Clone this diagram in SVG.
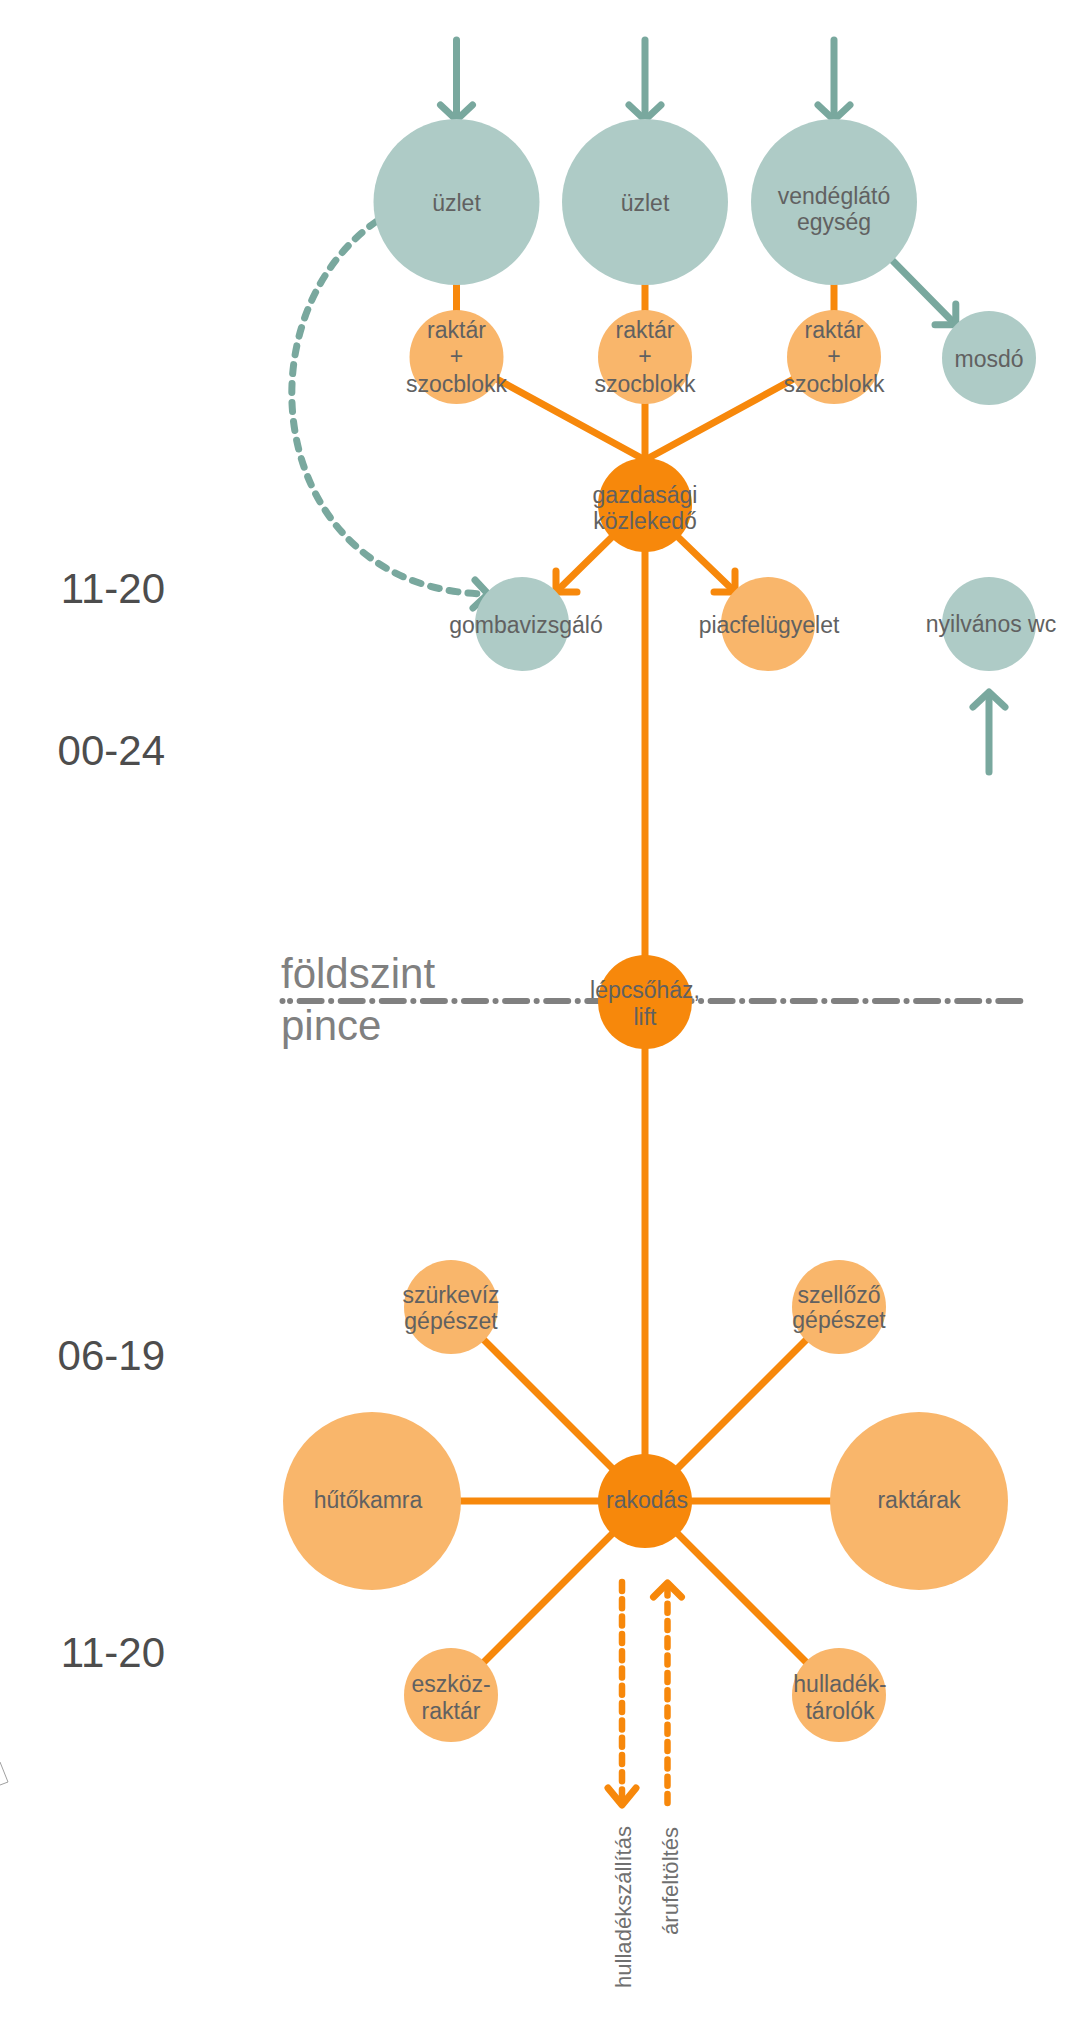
<svg xmlns="http://www.w3.org/2000/svg" width="1066" height="2042" viewBox="0 0 1066 2042">
<defs>
<style>
text{font-family:"Liberation Sans",Arial,sans-serif;}
.lbl{font-size:23px;fill:#616161;text-anchor:middle;}
.time{font-size:42px;fill:#4d4d4d;text-anchor:end;}
.floor{font-size:42px;fill:#808080;}
.rot{font-size:22px;fill:#707070;}
.teal{fill:#aecbc6;}
.lo{fill:#f9b66b;}
.do{fill:#f7880b;}
.ol{stroke:#f7880b;stroke-width:7;fill:none;stroke-linecap:round;stroke-linejoin:round;}
.tl{stroke:#79a89e;stroke-width:7;fill:none;stroke-linecap:round;stroke-linejoin:round;}
.tdash{stroke-dasharray:9 10;}
.odash{stroke-width:6.5;stroke-dasharray:9 8.3;}
</style>
</defs>
<rect width="1066" height="2042" fill="#ffffff"/>

<g id="floor-line">
<circle cx="282.5" cy="1001" r="3" fill="#808080"/>
<path d="M290,1001 H1028" stroke="#808080" stroke-width="6" stroke-linecap="round" stroke-dasharray="0.1 9.5 22 9.5" fill="none"/>
</g>

<g id="connectors">
<line class="ol" x1="456.5" y1="283" x2="456.5" y2="320"/>
<line class="ol" x1="645" y1="283" x2="645" y2="320"/>
<line class="ol" x1="834" y1="283" x2="834" y2="320"/>
<line class="ol" x1="456.5" y1="357" x2="645" y2="460"/>
<line class="ol" x1="834" y1="357" x2="645" y2="460"/>
<line class="ol" x1="645" y1="357" x2="645" y2="505"/>
<line class="ol" x1="645" y1="505" x2="645" y2="1002"/>
<line class="ol" x1="645" y1="1002" x2="645" y2="1501"/>
<line class="ol" x1="645" y1="1501" x2="451" y2="1307"/>
<line class="ol" x1="645" y1="1501" x2="839" y2="1307"/>
<line class="ol" x1="645" y1="1501" x2="451" y2="1695"/>
<line class="ol" x1="645" y1="1501" x2="839" y2="1695"/>
<line class="ol" x1="372" y1="1501" x2="645" y2="1501"/>
<line class="ol" x1="645" y1="1501" x2="919" y2="1501"/>
<!-- gazdasagi arrows -->
<line class="ol" x1="611.5" y1="537.5" x2="557" y2="591"/>
<polyline class="ol" points="556,571 556,592 577,592"/>
<line class="ol" x1="678.5" y1="537.5" x2="734" y2="591"/>
<polyline class="ol" points="735,571 735,592 714,592"/>
<!-- teal entrance arrows -->
<line class="tl" x1="456.5" y1="40" x2="456.5" y2="118"/>
<polyline class="tl" points="440.5,105 456.5,120 472.5,105"/>
<line class="tl" x1="645" y1="40" x2="645" y2="118"/>
<polyline class="tl" points="629,105 645,120 661,105"/>
<line class="tl" x1="834" y1="40" x2="834" y2="118"/>
<polyline class="tl" points="818,105 834,120 850,105"/>
<line class="tl" x1="892.7" y1="260.7" x2="955" y2="324"/>
<polyline class="tl" points="955.8,304 955.8,324.8 935,324.8"/>
<line class="tl" x1="989" y1="772" x2="989" y2="694"/>
<polyline class="tl" points="973,707 989,692 1005,707"/>
<path class="tl tdash" d="M377,221 C235,320 270,590 486,594"/>
<polyline class="tl" points="475,580 488,594 473,608"/>
<!-- loading dashed arrows -->
<line class="ol odash" x1="622" y1="1582" x2="622" y2="1803"/>
<polyline class="ol" stroke-width="6.5" points="608,1788 622,1805 636,1788"/>
<line class="ol odash" x1="667.5" y1="1803" x2="667.5" y2="1586"/>
<polyline class="ol" stroke-width="6.5" points="653.5,1597 667.5,1583 681.5,1597"/>
</g>

<g id="n-uzlet1"><circle class="teal" cx="456.5" cy="202" r="83"/><text class="lbl" x="456.5" y="211">üzlet</text></g>
<g id="n-uzlet2"><circle class="teal" cx="645" cy="202" r="83"/><text class="lbl" x="645" y="211">üzlet</text></g>
<g id="n-vendeglato"><circle class="teal" cx="834" cy="202" r="83"/><text class="lbl" x="834" y="204">vendéglátó</text><text class="lbl" x="834" y="230">egység</text></g>
<g id="n-raktar1"><circle class="lo" cx="456.5" cy="357" r="47"/><text class="lbl" x="456.5" y="338">raktár</text><text class="lbl" x="456.5" y="364">+</text><text class="lbl" x="456.5" y="391.5">szocblokk</text></g>
<g id="n-raktar2"><circle class="lo" cx="645" cy="357" r="47"/><text class="lbl" x="645" y="338">raktár</text><text class="lbl" x="645" y="364">+</text><text class="lbl" x="645" y="391.5">szocblokk</text></g>
<g id="n-raktar3"><circle class="lo" cx="834" cy="357" r="47"/><text class="lbl" x="834" y="338">raktár</text><text class="lbl" x="834" y="364">+</text><text class="lbl" x="834" y="391.5">szocblokk</text></g>
<g id="n-mosdo"><circle class="teal" cx="989" cy="358" r="47"/><text class="lbl" x="989" y="366.5">mosdó</text></g>
<g id="n-gazdasagi"><circle class="do" cx="645" cy="505" r="47"/><text class="lbl" x="645" y="503">gazdasági</text><text class="lbl" x="645" y="529">közlekedő</text></g>
<g id="n-gombavizsgalo"><circle class="teal" cx="522" cy="624" r="47"/><text class="lbl" x="526" y="633">gombavizsgáló</text></g>
<g id="n-piacfelugyelet"><circle class="lo" cx="768" cy="624" r="47"/><text class="lbl" x="769" y="633">piacfelügyelet</text></g>
<g id="n-wc"><circle class="teal" cx="989" cy="624" r="47"/><text class="lbl" x="991" y="632">nyilvános wc</text></g>
<g id="n-lepcsohaz"><circle class="do" cx="645" cy="1002" r="47"/><text class="lbl" x="645" y="998">lépcsőház,</text><text class="lbl" x="645" y="1025">lift</text></g>
<g id="n-szurkeviz"><circle class="lo" cx="451" cy="1307" r="47"/><text class="lbl" x="451" y="1303">szürkevíz</text><text class="lbl" x="451" y="1329">gépészet</text></g>
<g id="n-szellozo"><circle class="lo" cx="839" cy="1307" r="47"/><text class="lbl" x="839" y="1303">szellőző</text><text class="lbl" x="839" y="1328">gépészet</text></g>
<g id="n-hutokamra"><circle class="lo" cx="372" cy="1501" r="89"/><text class="lbl" x="368" y="1508">hűtőkamra</text></g>
<g id="n-rakodas"><circle class="do" cx="645" cy="1501" r="47"/><text class="lbl" x="647" y="1508">rakodás</text></g>
<g id="n-raktarak"><circle class="lo" cx="919" cy="1501" r="89"/><text class="lbl" x="919" y="1508">raktárak</text></g>
<g id="n-eszkozraktar"><circle class="lo" cx="451" cy="1695" r="47"/><text class="lbl" x="451" y="1692">eszköz-</text><text class="lbl" x="451" y="1719">raktár</text></g>
<g id="n-hulladektarolok"><circle class="lo" cx="839" cy="1695" r="47"/><text class="lbl" x="840" y="1692">hulladék-</text><text class="lbl" x="840" y="1719">tárolók</text></g>

<g id="labels">
<text class="time" x="165" y="603">11-20</text>
<text class="time" x="165" y="765">00-24</text>
<text class="time" x="165" y="1370">06-19</text>
<text class="time" x="165" y="1667">11-20</text>
<text class="floor" x="281" y="988">földszint</text>
<text class="floor" x="281" y="1040">pince</text>
<text class="rot" transform="translate(631,1988) rotate(-90)" textLength="162" lengthAdjust="spacingAndGlyphs">hulladékszállítás</text>
<text class="rot" transform="translate(678,1935) rotate(-90)" textLength="108" lengthAdjust="spacingAndGlyphs">árufeltöltés</text>
</g>

<path d="M0,1762 L8,1782 L0,1785" fill="none" stroke="#a0a0a0" stroke-width="1"/>
</svg>
